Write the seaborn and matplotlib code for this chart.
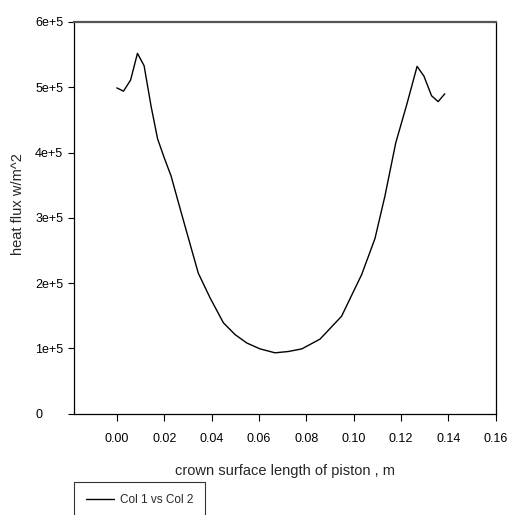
import matplotlib
matplotlib.use("Agg")
import matplotlib.pyplot as plt
import seaborn as sns
import pandas as pd

# Data
crown_length = [0.0000, 0.0028, 0.0058, 0.0087, 0.0115, 0.0145, 0.0172, 0.0200, 0.0229,
                0.0261, 0.0288, 0.0344, 0.0394, 0.0450, 0.0499, 0.0549, 0.0605, 0.0668,
                0.0724, 0.0781, 0.0858, 0.0949, 0.1034, 0.1090, 0.1132, 0.1178, 0.1224,
                0.1268, 0.1297, 0.1329, 0.1357, 0.1385]
heat_flux = [4.99e5, 4.94e5, 5.11e5, 5.52e5, 5.33e5, 4.70e5, 4.21e5, 3.92e5, 3.64e5,
             3.22e5, 2.87e5, 2.15e5, 1.77e5, 1.39e5, 1.21e5, 1.08e5, 0.99e5, 0.93e5,
             0.95e5, 0.99e5, 1.14e5, 1.49e5, 2.13e5, 2.68e5, 3.33e5, 4.15e5, 4.73e5,
             5.32e5, 5.17e5, 4.87e5, 4.78e5, 4.90e5]
x_ticks = [0.00, 0.02, 0.04, 0.06, 0.08, 0.10, 0.12, 0.14, 0.16]
x_tick_labels = ["0.00", "0.02", "0.04", "0.06", "0.08", "0.10", "0.12", "0.14", "0.16"]
y_ticks = [0, 1e5, 2e5, 3e5, 4e5, 5e5, 6e5]
y_tick_labels = ["0", "1e+5", "2e+5", "3e+5", "4e+5", "5e+5", "6e+5"]
series_name = "Col 1 vs Col 2"

df = pd.DataFrame({"x": crown_length, "y": heat_flux})

sns.set_theme(style="ticks")
plt.rcParams["font.family"] = ["Liberation Sans", "DejaVu Sans"]

W, H = 507, 515
fig = plt.figure(figsize=(W / 100, H / 100), dpi=100)
ax = fig.add_axes([74 / W, 1 - 413.5 / H, (495.7 - 74) / W, (413.5 - 22) / H])

sns.lineplot(data=df, x="x", y="y", sort=False, color="black", linewidth=1.0,
             label=series_name, ax=ax, legend=False)

ax.set_xlim(-0.0181, 0.16)
ax.set_ylim(0, 6e5)
ax.set_xticks(x_ticks)
ax.set_xticklabels(x_tick_labels, fontsize=9)
ax.set_yticks(y_ticks)
ax.set_yticklabels(y_tick_labels, fontsize=9, ha="left")

ax.tick_params(axis="x", direction="out", length=5, width=0.8, pad=9, colors="black")
ax.tick_params(axis="y", direction="out", length=4, width=0.8, pad=24, colors="black")

for side in ["left", "right", "bottom"]:
    ax.spines[side].set_color("black")
    ax.spines[side].set_linewidth(0.9)
ax.spines["top"].set_color("#555555")
ax.spines["top"].set_linewidth(1.6)

ax.set_xlabel("crown surface length of piston , m", fontsize=10.5, labelpad=14)
ax.set_ylabel("heat flux w/m^2", fontsize=10.5)
ax.yaxis.set_label_coords(-0.117, 0.535)

leg = fig.legend(handles=ax.get_lines(), labels=[series_name],
                 loc="upper left", bbox_to_anchor=(74 / W, 1 - 482 / H),
                 fontsize=8.5, frameon=True, fancybox=False, handlelength=2.4,
                 handletextpad=0.5, borderpad=1.0, borderaxespad=0)
leg.get_frame().set_edgecolor("black")
leg.get_frame().set_linewidth(0.8)

fig.savefig("out.png", dpi=100)
